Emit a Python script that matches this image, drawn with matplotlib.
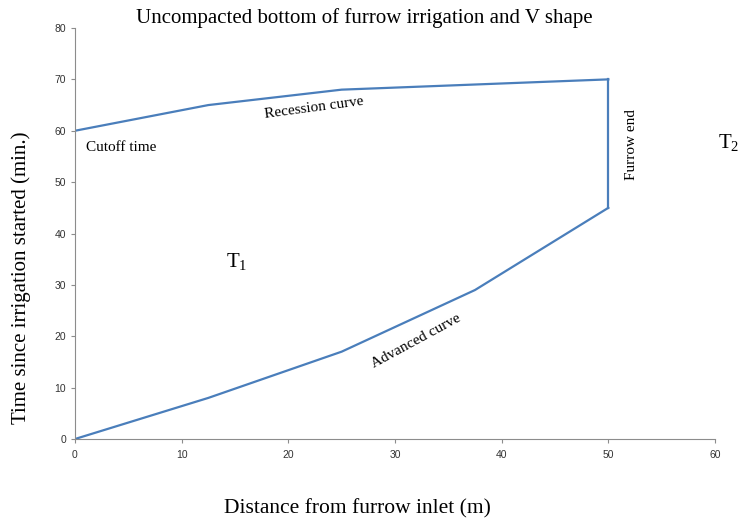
import matplotlib.pyplot as plt

# Dati
dist = [0, 12.5, 25, 37.5, 50]
advance = [0, 8, 17, 29, 45]
recession = [60, 65, 68, 69, 70]

line_col = '#4A7EBB'
axis_col = '#8C8C8C'
serif = ['Liberation Serif', 'DejaVu Serif']
narrow = ['Liberation Sans Narrow', 'Liberation Sans', 'DejaVu Sans']

plt.rcParams['mathtext.fontset'] = 'custom'
plt.rcParams['mathtext.rm'] = 'Liberation Serif'

fig = plt.figure(figsize=(7.46, 5.27), dpi=100)
ax = fig.add_axes([75 / 746, 1 - 439 / 527, 640 / 746, 411 / 527])

ax.plot(dist, advance, color=line_col, lw=1.6)
ax.plot(dist, recession, color=line_col, lw=1.6)
# furrow end: linea verticale che unisce le due curve
ax.plot([dist[-1], dist[-1]], [advance[-1], recession[-1]], color=line_col, lw=1.6)

ax.set_xlim(0, 60)
ax.set_ylim(0, 80)
ax.set_xticks(range(0, 61, 10))
ax.set_yticks(range(0, 81, 10))

for s in ['top', 'right']:
    ax.spines[s].set_visible(False)
for s in ['left', 'bottom']:
    ax.spines[s].set_color(axis_col)
    ax.spines[s].set_linewidth(0.8)
ax.tick_params(colors=axis_col, length=3, width=0.8, labelcolor='#333333')
ax.tick_params(axis='x', pad=5)
for lab in ax.get_xticklabels() + ax.get_yticklabels():
    lab.set_family(narrow)
    lab.set_fontsize(7.5)

# Titoli
fig.text(364 / 746, 1 - 18 / 527, 'Uncompacted bottom of furrow irrigation and V shape',
         ha='center', va='center', family=serif, fontsize=15)
fig.text(357 / 746, 1 - 509 / 527, 'Distance from furrow inlet (m)',
         ha='center', va='center', family=serif, fontsize=15.5)
fig.text(21 / 746, 1 - 278 / 527, 'Time since irrigation started (min.)',
         ha='center', va='center', rotation=90, family=serif, fontsize=15)

# Annotazioni
ax.text(1.0, 56.8, 'Cutoff time', ha='left', va='center', family=serif, fontsize=11)
ax.text(22.4, 64.4, 'Recession curve', ha='center', va='center', rotation=7.6,
        family=serif, fontsize=11)
ax.text(52.2, 57.3, 'Furrow end', ha='center', va='center', rotation=90,
        family=serif, fontsize=11)
ax.text(32.0, 19.1, 'Advanced curve', ha='center', va='center', rotation=28.5,
        family=serif, fontsize=11)
ax.text(15.2, 34.5, r'T$_{\mathregular{1}}$', ha='center', va='center', family=serif, fontsize=15)
ax.text(61.3, 57.6, r'T$_{\mathregular{2}}$', ha='center', va='center', family=serif,
        fontsize=15, clip_on=False)

fig.savefig('out.png', dpi=100)
